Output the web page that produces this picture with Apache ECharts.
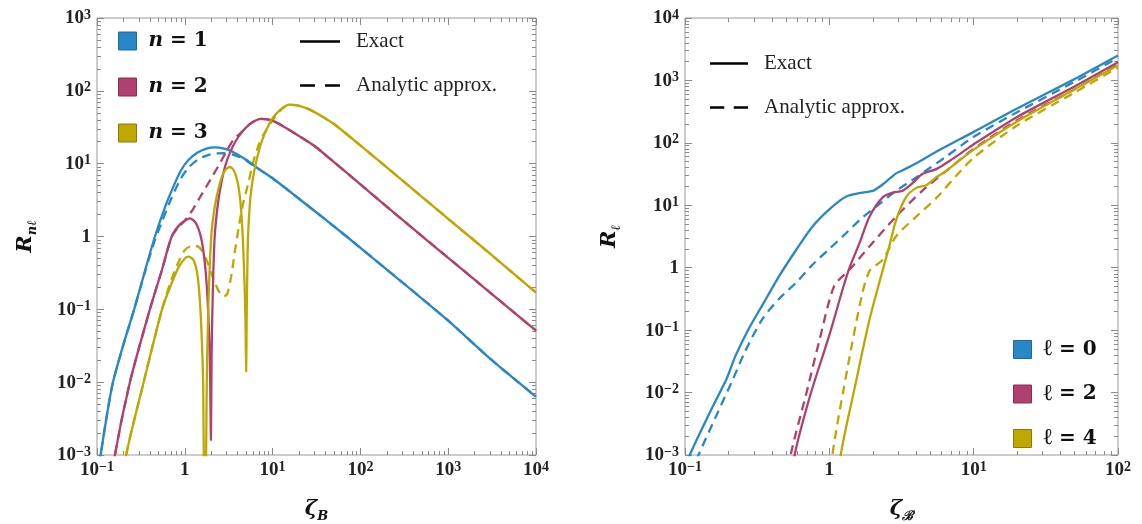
<!DOCTYPE html>
<html><head><meta charset="utf-8">
<script src="https://cdn.jsdelivr.net/npm/echarts@6/dist/echarts.min.js"></script>
<style>html,body{margin:0;padding:0;background:#fff}#c{width:1142px;height:524px}</style>
</head><body><div id="c"></div>
<script>
// ---------- Left panel data: R_nl vs zeta_B ----------
const n1Exact = [[0.1,4.5e-4],[0.11,1e-3],[0.13,3.6e-3],[0.152,1e-2],[0.2,3.3e-2],[0.265,0.1],[0.35,0.33],[0.457,1],[0.6,2.6],[0.75,5],[0.9,8],[1.1,11.2],[1.4,14.2],[1.8,16.2],[2.2,16.7],[2.8,16.1],[3.5,14.6],[5,11.3],[7,8.4],[10,6.3],[20,3.3],[50,1.38],[100,0.7],[300,0.235],[1000,0.07],[3000,0.021],[10000,6.3e-3]];
const n1Approx = [[0.1,4.5e-4],[0.11,1e-3],[0.13,3.6e-3],[0.152,1e-2],[0.2,3.3e-2],[0.265,0.1],[0.35,0.32],[0.45,0.85],[0.55,1.6],[0.7,3.3],[0.9,6.2],[1.1,8.8],[1.4,11.3],[1.8,13],[2.3,13.8],[2.8,13.9],[3.5,13.3],[4.5,12],[5.5,10.2],[7,8.4],[10,6.3],[20,3.3],[50,1.38],[100,0.7],[300,0.235],[1000,0.07],[3000,0.021],[10000,6.3e-3]];
const n2Exact = [[0.14,2.5e-4],[0.16,1e-3],[0.237,1e-2],[0.4,0.1],[0.55,0.35],[0.71,1],[0.9,1.5],[1.15,1.77],[1.35,1.5],[1.55,0.9],[1.72,0.35],[1.84,0.1],[1.93,0.02],[1.985,1.6e-3],[2.02,0.025],[2.09,0.2],[2.19,1],[2.4,3],[2.65,6],[2.9,9.5],[3.3,14.5],[3.8,20.5],[4.5,27.5],[5.5,35],[6.5,39.5],[7.5,41.2],[8.7,40.7],[10,39],[13,33],[20,24],[30,17.5],[50,10.5],[100,5.2],[300,1.7],[1000,0.51],[3000,0.17],[10000,0.051]];
const n2Approx = [[0.14,2.5e-4],[0.16,1e-3],[0.237,1e-2],[0.4,0.1],[0.55,0.35],[0.71,1],[0.85,1.35],[1.0,1.65],[1.25,2.4],[1.5,3.5],[2,6.3],[2.5,10],[3,15],[3.6,21.5],[4.5,27.5],[5.5,35],[6.5,39.5],[7.5,41.2],[8.7,40.7],[10,39],[13,33],[20,24],[30,17.5],[50,10.5],[100,5.2],[300,1.7],[1000,0.51],[3000,0.17],[10000,0.051]];
const n3Exact = [[0.19,2.5e-4],[0.215,1e-3],[0.34,1e-2],[0.55,0.1],[0.7,0.22],[0.85,0.38],[1.0,0.5],[1.1,0.53],[1.25,0.48],[1.38,0.32],[1.48,0.14],[1.56,0.04],[1.62,0.009],[1.665,1e-4],[1.69,1e-5],[1.715,1e-4],[1.75,1e-3],[1.78,0.01],[1.85,0.1],[2.0,1],[2.2,2.6],[2.5,5.3],[2.85,8],[3.25,9],[3.6,8.2],[4.0,5.5],[4.3,3],[4.55,1.1],[4.75,0.3],[4.9,0.08],[5.0,0.014],[5.08,0.1],[5.18,0.5],[5.3,1.3],[5.6,3.5],[6,6.5],[6.6,11.5],[7.5,20],[8.7,31],[10,42],[12,54],[15.5,64.5],[19,63],[25,57],[35,46],[50,35],[100,17.8],[300,5.9],[1000,1.75],[3000,0.58],[10000,0.17]];
const n3Approx = [[0.19,2.5e-4],[0.215,1e-3],[0.34,1e-2],[0.55,0.1],[0.7,0.25],[0.85,0.45],[1.0,0.65],[1.15,0.73],[1.35,0.74],[1.55,0.65],[1.8,0.45],[2.1,0.27],[2.45,0.175],[2.8,0.15],[3.05,0.165],[3.35,0.27],[3.7,0.6],[4.1,1.3],[4.6,2.8],[5.2,5],[5.7,8],[6.2,12],[7,18.5],[8,26],[9.5,36],[11,46],[12.5,55],[15.5,64.5],[19,63],[25,57],[35,46],[50,35],[100,17.8],[300,5.9],[1000,1.75],[3000,0.58],[10000,0.17]];

// ---------- Right panel data: R_l vs zeta_B ----------
const l0Exact = [[0.1,5e-4],[0.108,1e-3],[0.15,5e-3],[0.195,0.017],[0.223,0.038],[0.277,0.106],[0.343,0.25],[0.45,0.74],[0.59,1.94],[0.76,4.5],[1.0,8.6],[1.31,13.8],[1.7,16],[2.0,17],[2.34,21.5],[2.9,32.5],[3.2,36],[4,47],[5.5,72],[10,150],[20,355],[50,1050],[100,2500]];
const l0Approx = [[0.1,3e-4],[0.124,1e-3],[0.17,5e-3],[0.214,0.016],[0.26,0.045],[0.343,0.15],[0.45,0.32],[0.59,0.58],[0.76,1.1],[1,2.0],[1.31,3.6],[1.7,6.4],[2.24,10.6],[2.9,17],[4,28],[6.3,58],[10,125],[20,310],[50,950],[100,2300]];
const l2Exact = [[0.53,2e-4],[0.575,1e-3],[0.74,9.3e-3],[1,0.083],[1.24,0.46],[1.38,1],[1.62,2.5],[1.9,6.6],[2.35,13.5],[2.75,16],[3.2,17],[3.8,23],[4.4,31.6],[5.5,38],[6.5,48],[8,66],[10,95],[20,260],[50,800],[100,1950]];
const l2Approx = [[0.5,2e-4],[0.54,1e-3],[0.69,9.3e-3],[0.85,0.066],[1.08,0.51],[1.38,0.93],[1.9,2.2],[2.9,6.6],[4.4,17],[6.5,36],[10,80],[20,230],[50,720],[100,1800]];
const l4Exact = [[1.16,2e-4],[1.2,1e-3],[1.5,0.012],[1.88,0.135],[2.22,0.58],[2.6,2.2],[2.9,5.8],[3.4,13.5],[4,19],[4.7,21],[5.5,28],[6.5,36],[7.6,48],[10,78],[20,220],[50,720],[100,1750]];
const l4Approx = [[1.01,2e-4],[1.05,1e-3],[1.35,0.028],[1.68,0.36],[1.9,0.89],[2.35,1.35],[2.9,3.2],[4,6.6],[5.5,13],[7.6,30],[10,58],[20,190],[50,640],[100,1600]];

// ---------- tick labels: [base, exponent] ----------
const leftXLabels  = [['10','\u22121'],['1',''],['10','1'],['10','2'],['10','3'],['10','4']];           // 1e-1 .. 1e4
const leftYLabels  = [['10','\u22123'],['10','\u22122'],['10','\u22121'],['1',''],['10','1'],['10','2'],['10','3']]; // 1e-3 .. 1e3
const rightXLabels = [['10','\u22121'],['1',''],['10','1'],['10','2']];                                 // 1e-1 .. 1e2
const rightYLabels = [['10','\u22123'],['10','\u22122'],['10','\u22121'],['1',''],['10','1'],['10','2'],['10','3'],['10','4']]; // 1e-3 .. 1e4

const C1 = '#2787c7', C2 = '#b0406f', C3 = '#bda700';
const TICK = '#8a8a8a';

function minorVals(e0, e1){ const a=[]; for(let e=e0;e<e1;e++){ for(let k=2;k<=9;k++) a.push(+(k*Math.pow(10,e)).toPrecision(6)); } return a; }

const tickRich = {
  b:{fontFamily:'Liberation Serif', fontWeight:'bold', fontSize:19, color:'#222', lineHeight:20, verticalAlign:'bottom'},
  s:{fontFamily:'Liberation Serif', fontWeight:'bold', fontSize:14, color:'#222', lineHeight:14, verticalAlign:'top'}
};

function axisSet(dim, gi, e0, e1, labels, nameOpts){
  const min = Math.pow(10,e0), max = Math.pow(10,e1);
  const isX = dim==='x';
  const base = {type:'log', logBase:10, gridIndex:gi, min, max, splitNumber:e1-e0,
    splitLine:{show:false}, axisLine:{show:false}};
  const main = Object.assign({}, base, {
    position: isX?'bottom':'left',
    axisTick:{show:true, inside:true, length:7, lineStyle:{color:TICK, width:1}},
    axisLabel:{show:true, margin: isX?5:6, showMinLabel:true, showMaxLabel:true, rich:tickRich,
      formatter: v => { const l = labels[Math.round(Math.log10(v))-e0]; return l[1] ? '{b|'+l[0]+'}{s|'+l[1]+'}' : '{b|'+l[0]+'}'; }},
  }, nameOpts);
  const minor = Object.assign({}, base, {position: isX?'bottom':'left',
    axisTick:{show:true, inside:true, length:4, customValues:minorVals(e0,e1), lineStyle:{color:TICK,width:1}},
    axisLabel:{show:false}});
  const opp = Object.assign({}, base, {position: isX?'top':'right',
    axisTick:{show:true, inside:true, length:7, lineStyle:{color:TICK,width:1}}, axisLabel:{show:false}});
  const oppMinor = Object.assign({}, base, {position: isX?'top':'right',
    axisTick:{show:true, inside:true, length:4, customValues:minorVals(e0,e1), lineStyle:{color:TICK,width:1}},
    axisLabel:{show:false}});
  return [main, minor, opp, oppMinor];
}

const nameRich = {
  b:{fontFamily:'DejaVu Serif', fontStyle:'italic', fontWeight:'bold', fontSize:21, color:'#111', lineHeight:24, padding:[0,0,5,0], verticalAlign:'top'},
  s:{fontFamily:'DejaVu Serif', fontStyle:'italic', fontWeight:'bold', fontSize:13, color:'#111', lineHeight:14, verticalAlign:'bottom'}
};

const xAxes = [].concat(
  axisSet('x',0,-1,4,leftXLabels,{name:'{b|\u03B6}{s|B}', nameLocation:'middle', nameGap:44, nameTextStyle:{rich:nameRich}}),
  axisSet('x',1,-1,2,rightXLabels,{name:'{b|\u03B6}{s|\u212C}', nameLocation:'middle', nameGap:44, nameTextStyle:{rich:nameRich}})
);
const yAxes = [].concat(
  axisSet('y',0,-3,3,leftYLabels,{name:'{b|R}{s|n\u2113}', nameLocation:'middle', nameGap:58, nameRotate:90, nameTextStyle:{rich:nameRich}}),
  axisSet('y',1,-3,4,rightYLabels,{name:'{b|R}{s|\u2113}', nameLocation:'middle', nameGap:62, nameRotate:90, nameTextStyle:{rich:nameRich}})
);

function line(name, data, color, dashed, gi){
  return {type:'line', name, data, xAxisIndex:gi*4, yAxisIndex:gi*4, symbol:'none', showSymbol:false,
    smooth:0.25, clip:true, silent:true, z: dashed?3:4,
    lineStyle:{color, width:2.3, type: dashed?[9,6]:'solid', cap:'butt'}, itemStyle:{color},
    emphasis:{disabled:true}};
}

const series = [
  line('n = 1', n1Exact, C1, false, 0), line('n = 1 approx', n1Approx, C1, true, 0),
  line('n = 2', n2Exact, C2, false, 0), line('n = 2 approx', n2Approx, C2, true, 0),
  line('n = 3', n3Exact, C3, false, 0), line('n = 3 approx', n3Approx, C3, true, 0),
  line('\u2113 = 0', l0Exact, C1, false, 1), line('\u2113 = 0 approx', l0Approx, C1, true, 1),
  line('\u2113 = 2', l2Exact, C2, false, 1), line('\u2113 = 2 approx', l2Approx, C2, true, 1),
  line('\u2113 = 4', l4Exact, C3, false, 1), line('\u2113 = 4 approx', l4Approx, C3, true, 1),
  {type:'line', name:'Exact', data:[], xAxisIndex:0, yAxisIndex:0, symbol:'none', lineStyle:{color:'#000', width:2.2}, itemStyle:{color:'#000'}},
  {type:'line', name:'Analytic approx.', data:[], xAxisIndex:0, yAxisIndex:0, symbol:'none', lineStyle:{color:'#000', width:2.2}, itemStyle:{color:'#000'}}
];

const mathRich = {
  i:{fontFamily:'DejaVu Serif', fontStyle:'italic', fontWeight:'bold', fontSize:20, color:'#111'},
  l:{fontFamily:'DejaVu Serif', fontWeight:'bold', fontSize:23, color:'#111'},
  r:{fontFamily:'DejaVu Serif', fontWeight:'bold', fontSize:20, color:'#111'}
};
function mathFmt(name){ const p = name.split(' = '); const t = p[0]==='\u2113' ? 'l' : 'i'; return '{'+t+'|'+p[0]+'}{r| = '+p[1]+'}'; }
const sqLegend = (left, top, names, gap) => ({
  left, top, padding:0, orient:'vertical', itemWidth:18, itemHeight:18, itemGap:gap, selectedMode:false,
  data: names.map((n,i)=>({name:n, icon:'rect', itemStyle:{borderColor:['#1a6a9e','#86304f','#8d7c00'][i], borderWidth:1}})),
  formatter: mathFmt, textStyle:{rich:mathRich, padding:[0,0,0,7]}
});
const lineLegend = (left, top, w) => ({
  left, top, padding:0, orient:'vertical', itemWidth:w, itemHeight:18, itemGap:23, selectedMode:false,
  data:[{name:'Exact', icon:'path://M0,0h40v2.4h-40z'},
        {name:'Analytic approx.', icon:'path://M0,0h15v2.4h-15z M25,0h15v2.4h-15z'}],
  textStyle:{fontFamily:'Liberation Serif', fontSize:21, color:'#222', padding:[0,0,0,11]}
});

const option = {
  animation:false,
  backgroundColor:'#fff',
  grid:[
    {left:97, top:18, width:439, height:437, outerBoundsMode:'none', containLabel:false, show:true, borderColor:'#999', borderWidth:1, backgroundColor:'transparent'},
    {left:685, top:18, width:433, height:437, outerBoundsMode:'none', containLabel:false, show:true, borderColor:'#999', borderWidth:1, backgroundColor:'transparent'}
  ],
  xAxis:xAxes, yAxis:yAxes,
  legend:[
    sqLegend(118, 31, ['n = 1','n = 2','n = 3'], 26),
    lineLegend(300, 31, 40),
    lineLegend(710, 53, 38),
    sqLegend(1013, 338, ['\u2113 = 0','\u2113 = 2','\u2113 = 4'], 21.5)
  ],
  series
};
const chart = echarts.init(document.getElementById('c'), null, {renderer:'canvas'});
chart.setOption(option);
</script>
</body></html>
